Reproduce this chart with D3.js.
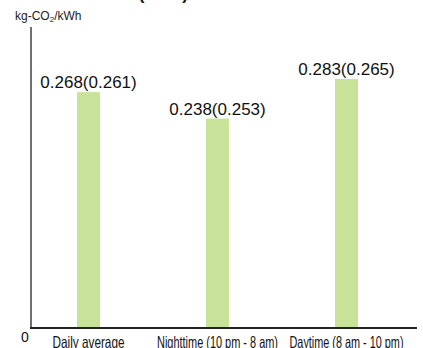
<!DOCTYPE html>
<html>
<head>
<meta charset="utf-8">
<script src="https://cdn.jsdelivr.net/npm/d3@7"></script>
<style>
  html, body { margin: 0; padding: 0; background: #fff; }
  svg { display: block; }
</style>
</head>
<body>
<script>
// Emission factors per time band; value in parentheses is the previous-year figure
const categories = ["Daily average", "Nighttime (10 pm - 8 am)", "Daytime (8 am - 10 pm)"];
const currentValues = [0.268, 0.238, 0.283];
const previousValues = [0.261, 0.253, 0.265];
const yTickLabels = ["0"];

const W = 423, H = 348;
const svg = d3.select("body").append("svg").attr("width", W).attr("height", H);

const x = d3.scalePoint().domain(categories).range([24, 411]).padding(0.5);
const y = d3.scaleLinear().domain([0, 0.342]).range([328, 27]);
const barW = 23;

// Title, partly above the visible area
svg.append("text")
  .attr("x", 188).attr("y", 0)
  .attr("text-anchor", "end")
  .attr("font-family", "Liberation Sans, Arial, sans-serif")
  .attr("font-weight", "bold")
  .attr("font-size", 17)
  .attr("fill", "#111")
  .text("Emission Factor (2021)");

// Unit label
const unit = svg.append("text")
  .attr("x", 15).attr("y", 20)
  .attr("font-family", "Liberation Sans Narrow, Liberation Sans, Arial, sans-serif")
  .attr("font-size", 12)
  .attr("fill", "#222");
unit.append("tspan").text("kg-CO");
unit.append("tspan").attr("font-size", 8).attr("dy", 2).text("2");
unit.append("tspan").attr("dy", -2).text("/kWh");

// Bars
svg.selectAll("rect.bar")
  .data(categories)
  .join("rect")
  .attr("class", "bar")
  .attr("x", d => x(d) - barW / 2)
  .attr("y", (d, i) => y(currentValues[i]))
  .attr("width", barW)
  .attr("height", (d, i) => y(0) - y(currentValues[i]))
  .attr("fill", "#c8e29a");

// Value labels
svg.selectAll("text.val")
  .data(categories)
  .join("text")
  .attr("class", "val")
  .attr("x", d => x(d))
  .attr("y", (d, i) => y(currentValues[i]) - 4)
  .attr("text-anchor", "middle")
  .attr("font-family", "Liberation Sans, Arial, sans-serif")
  .attr("font-size", 17)
  .attr("fill", "#111")
  .text((d, i) => `${currentValues[i].toFixed(3)}(${previousValues[i].toFixed(3)})`);

// Y axis line
svg.append("line")
  .attr("x1", 31).attr("x2", 31)
  .attr("y1", y.range()[1]).attr("y2", y(0))
  .attr("stroke", "#707070").attr("stroke-width", 2);

// X axis line
svg.append("line")
  .attr("x1", 30).attr("x2", 417)
  .attr("y1", y(0)).attr("y2", y(0))
  .attr("stroke", "#222").attr("stroke-width", 2);

// Zero label
svg.selectAll("text.ytick")
  .data(yTickLabels)
  .join("text")
  .attr("class", "ytick")
  .attr("x", 25).attr("y", d => y(+d) + 14)
  .attr("text-anchor", "middle")
  .attr("font-family", "Liberation Sans, Arial, sans-serif")
  .attr("font-size", 14)
  .attr("fill", "#111")
  .text(d => d);

// Category labels
const catWidths = [72, 121, 114];
svg.selectAll("text.cat")
  .data(categories)
  .join("text")
  .attr("class", "cat")
  .attr("x", d => x(d))
  .attr("y", 347.5)
  .attr("text-anchor", "middle")
  .attr("font-family", "Liberation Sans Narrow, Liberation Sans, Arial, sans-serif")
  .attr("font-size", 16.5)
  .attr("fill", "#111")
  .attr("textLength", (d, i) => catWidths[i])
  .attr("lengthAdjust", "spacingAndGlyphs")
  .text(d => d);
</script>
</body>
</html>
